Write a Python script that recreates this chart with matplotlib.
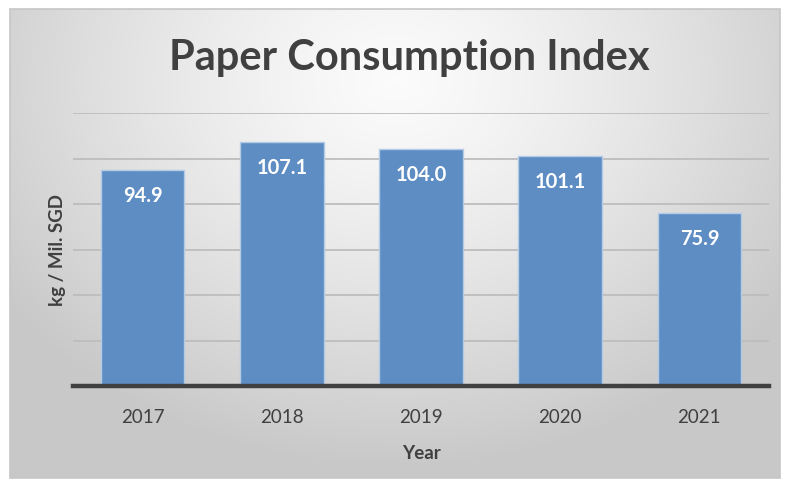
import numpy as np
import matplotlib
matplotlib.use("Agg")
import matplotlib.pyplot as plt
from matplotlib.patches import Rectangle

years = ["2017", "2018", "2019", "2020", "2021"]
values = [94.9, 107.1, 104.0, 101.1, 75.9]
labels = ["94.9", "107.1", "104.0", "101.1", "75.9"]

FONT = "Lato"
W, H = 786, 492
fig = plt.figure(figsize=(W / 100, H / 100), dpi=100)
fig.patch.set_facecolor("white")

# chart area background with radial gradient
fx0, fy0, fx1, fy1 = 10, 9, 780, 478  # pixel coords (top-left origin)
bg = fig.add_axes([fx0 / W, 1 - fy1 / H, (fx1 - fx0) / W, (fy1 - fy0) / H], zorder=-10)
ny, nx = 200, 330
yy, xx = np.mgrid[0:ny, 0:nx]
cx, cy = nx * 0.5, ny * 0.15
d = np.sqrt(((xx - cx) / nx) ** 2 + ((yy - cy) / ny * 0.75) ** 2)
d = np.clip(d / 0.62, 0, 1)
v = 0.985 - 0.2 * d ** 1.3
bg.imshow(np.dstack([v, v, v]), aspect="auto", extent=[0, 1, 0, 1], interpolation="bilinear")
bg.set_xlim(0, 1)
bg.set_ylim(0, 1)
bg.axis("off")
bg.add_patch(Rectangle((0, 0), 1, 1, transform=bg.transAxes, fill=False,
                       edgecolor="#c6c6c6", linewidth=1.2, clip_on=False))

ax = fig.add_axes([73 / W, 1 - 386 / H, (769 - 73) / W, (386 - 113) / H])
ax.patch.set_alpha(0)
x = np.arange(len(years))
bars = ax.bar(x, values, width=0.6, color="#5E8DC4", edgecolor="#B4CBE6",
              linewidth=1.0, zorder=3)
ax.set_xlim(-0.5, len(years) - 0.5)
ax.set_ylim(0, 120)
ax.set_yticks(np.arange(20, 121, 20))
ax.yaxis.grid(True, color="#BDBDBD", linewidth=1.3, zorder=0)
ax.tick_params(axis="y", left=False, labelleft=False)
ax.axhline(0, color="#404040", linewidth=3.2, zorder=4, clip_on=False)
for s in ax.spines.values():
    s.set_visible(False)
ax.set_xticks(x)
ax.set_xticklabels(years, fontsize=13.5, color="#404040", family=FONT)
ax.tick_params(axis="x", bottom=False, pad=13)

for xi, val, lab in zip(x, values, labels):
    ax.annotate(lab, (xi, val), xytext=(0, -26), textcoords="offset pixels",
                ha="center", va="center", color="white", fontsize=14.5,
                fontweight="bold", family=FONT, zorder=5)

ax.set_xlabel("Year", fontsize=13.5, fontweight="bold", color="#404040",
              family=FONT, labelpad=14)
fig.text(57 / W, 1 - 250 / H, "kg / Mil. SGD", rotation=90, ha="center", va="center",
         fontsize=13.5, fontweight="bold", color="#404040", family=FONT)

fig.text(409 / W, 1 - 58 / H, "Paper Consumption Index", ha="center", va="center",
         fontsize=30, fontweight="bold", color="#404040", family=FONT)

fig.savefig("out.png", dpi=100)
